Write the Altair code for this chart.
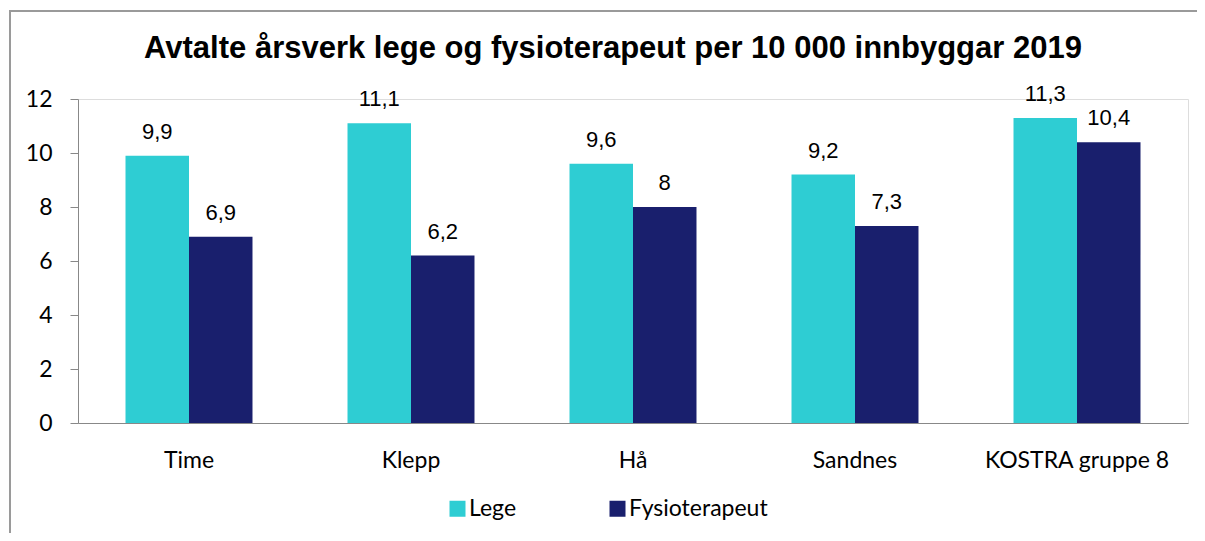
import altair as alt
import pandas as pd

categories = ["Time", "Klepp", "Hå", "Sandnes", "KOSTRA gruppe 8"]
lege = [9.9, 11.1, 9.6, 9.2, 11.3]
fysio = [6.9, 6.2, 8.0, 7.3, 10.4]
series = ["Lege", "Fysioterapeut"]
colors = ["#2ecdd3", "#191f6d"]
y_ticks = [0, 2, 4, 6, 8, 10, 12]
title_text = "Avtalte årsverk lege og fysioterapeut per 10 000 innbyggar 2019"

rows = []
for c, a, b in zip(categories, lege, fysio):
    for s, v in zip(series, (a, b)):
        rows.append({"kategori": c, "serie": s, "verdi": v,
                     "etikett": f"{v:g}".replace(".", ",")})
df = pd.DataFrame(rows)

x = alt.X("kategori:N", sort=categories,
          scale=alt.Scale(paddingInner=0.428, paddingOuter=0.214),
          axis=alt.Axis(title=None, labelAngle=0, ticks=False, domainColor="#888888",
                        labelFont="Lato", labelFontSize=23, labelColor="black",
                        labelPadding=26, labelLimit=400))
y = alt.Y("verdi:Q", scale=alt.Scale(domain=[0, 12], nice=False),
          axis=alt.Axis(title=None, values=y_ticks, grid=False, tickSize=8,
                        tickColor="#888888", domainColor="#888888",
                        labelFont="Lato", labelFontSize=23, labelColor="black",
                        labelPadding=18))
xo = alt.XOffset("serie:N", sort=series)

base = alt.Chart(df)
bars = base.mark_bar(strokeWidth=0).encode(
    x=x, y=y, xOffset=xo,
    color=alt.Color("serie:N", sort=series,
                    scale=alt.Scale(domain=series, range=colors),
                    legend=alt.Legend(title=None, orient="none", legendX=368, legendY=398,
                                      direction="horizontal", symbolType="square",
                                      symbolSize=256, symbolStrokeWidth=0,
                                      labelFont="Lato", labelFontSize=23,
                                      labelColor="black", labelOffset=0,
                                      columnPadding=89)),
)
labels = base.mark_text(font="Liberation Sans", fontSize=22, baseline="alphabetic",
                        dy=-17, color="black").encode(
    x=x, y=y, xOffset=xo, text="etikett:N")

one = pd.DataFrame({"a": [0]})
title = alt.Chart(one).mark_text(font="Liberation Sans", fontSize=31, fontWeight="bold",
                                 baseline="alphabetic", align="center", color="black").encode(
    x=alt.value(535), y=alt.value(-41), text=alt.value(title_text))
frame = alt.Chart(one).mark_rect(fillOpacity=0, fill="white", stroke="#9a9a9a",
                                 strokeWidth=2).encode(
    x=alt.value(-68), x2=alt.value(1200), y=alt.value(-88), y2=alt.value(480))

chart = alt.layer(frame, bars, labels, title).properties(
    width=1110, height=324,
    padding={"left": 70, "top": 91, "right": 9, "bottom": 110},
    autosize="none",
).configure_view(stroke=None).configure(background="white")

chart.save("out.html", embed_options={"renderer": "svg", "actions": False})
